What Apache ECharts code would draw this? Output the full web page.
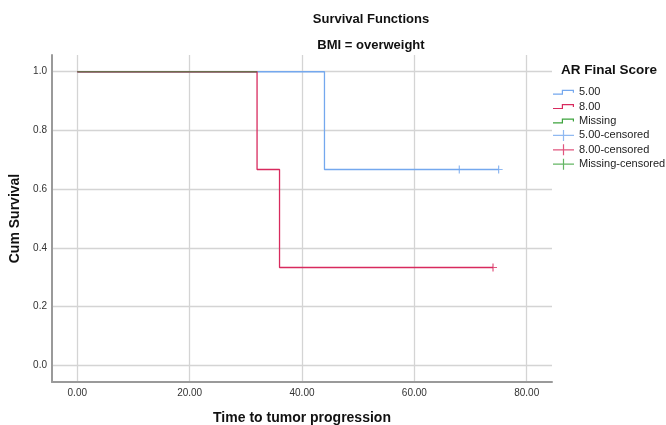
<!DOCTYPE html>
<html>
<head>
<meta charset="utf-8">
<script src="https://cdn.jsdelivr.net/npm/echarts@6/dist/echarts.min.js"></script>
<style>
  html, body { margin: 0; padding: 0; background: #fff; }
  #chart { width: 666px; height: 425px; }
</style>
</head>
<body>
<div id="chart"></div>
<script>
// 数据：生存曲线（Kaplan-Meier）
var groups = ['5.00', '8.00', 'Missing'];
var time5 = [0, 44, 68, 75];
var surv5 = [1, 0.667, 0.667, 0.667];
var censorTime5 = [68, 75];
var censorSurv5 = [0.667, 0.667];
var time8 = [0, 32, 36, 74];
var surv8 = [1, 0.667, 0.333, 0.333];
var censorTime8 = [74];
var censorSurv8 = [0.333];
var timeMissing = [0, 32];
var survMissing = [1, 1];
var xTicks = [0, 20, 40, 60, 80];
var yTicks = [0, 0.2, 0.4, 0.6, 0.8, 1.0];

function pairs(xs, ys) {
    return xs.map(function (x, i) { return [x, ys[i]]; });
}

// 图例图标
var stepIcon = 'path://M0,3.8 H8.8 V0 H21 V3 H19.8 V1.2 H10 V5 H0 Z';
var crossIcon = 'path://M0,4.9 H9.9 V0 H11.1 V4.9 H21 V6.1 H11.1 V11 H9.9 V6.1 H0 Z';
var censorMark = 'path://M0,3.4 H3.4 V0 H4.6 V3.4 H8 V4.6 H4.6 V8 H3.4 V4.6 H0 Z';

var colBlue = '#74a8ee';
var colRed = '#d82a5e';
var colGreen = '#3da33d';

var chart = echarts.init(document.getElementById('chart'));
var option = {
    backgroundColor: '#fff',
    animation: false,
    textStyle: { fontFamily: 'Liberation Sans, Arial, sans-serif' },
    title: [{
        text: 'Survival Functions',
        subtext: 'BMI = overweight',
        left: 366,
        textAlign: 'center',
        top: 8,
        itemGap: 13,
        textStyle: { fontSize: 13, fontWeight: 'bold', color: '#111' },
        subtextStyle: { fontSize: 13, fontWeight: 'bold', color: '#111' }
    }, {
        text: 'AR Final Score',
        left: 556,
        top: 58,
        textStyle: { fontSize: 13.5, fontWeight: 'bold', color: '#111' }
    }],
    legend: {
        orient: 'vertical',
        left: 548,
        top: 80,
        itemWidth: 21,
        itemHeight: 11,
        itemGap: 0,
        textStyle: { fontSize: 11, color: '#222', lineHeight: 14.4 },
        data: [
            { name: '5.00', icon: stepIcon },
            { name: '8.00', icon: stepIcon },
            { name: 'Missing', icon: stepIcon },
            { name: '5.00-censored', icon: crossIcon },
            { name: '8.00-censored', icon: crossIcon },
            { name: 'Missing-censored', icon: crossIcon }
        ]
    },
    grid: { left: 52, right: 114, top: 55, bottom: 43, outerBoundsMode: 'none' },
    xAxis: {
        type: 'value',
        min: -4.5,
        max: 84.5,
        name: 'Time to tumor progression',
        nameLocation: 'middle',
        nameGap: 29,
        nameTextStyle: { fontSize: 14, fontWeight: 'bold', color: '#111' },
        axisLine: { onZero: false, lineStyle: { color: '#9a9a9a', width: 2 } },
        axisTick: { show: false, customValues: xTicks },
        axisLabel: {
            customValues: xTicks,
            fontSize: 10,
            color: '#333',
            margin: 6,
            formatter: function (v) { return v.toFixed(2); }
        },
        splitLine: { show: true, lineStyle: { color: '#d4d4d4', width: 1.3 } }
    },
    yAxis: {
        type: 'value',
        min: -0.057,
        max: 1.057,
        name: 'Cum Survival',
        nameLocation: 'middle',
        nameGap: 28,
        nameTextStyle: { fontSize: 14, fontWeight: 'bold', color: '#111' },
        axisLine: { show: true, onZero: false, lineStyle: { color: '#9a9a9a', width: 2 } },
        axisTick: { show: false, customValues: yTicks },
        axisLabel: {
            customValues: yTicks,
            fontSize: 10,
            color: '#333',
            margin: 5,
            formatter: function (v) { return v.toFixed(1); }
        },
        splitLine: { show: true, lineStyle: { color: '#d4d4d4', width: 1.3 } }
    },
    series: [{
        name: '5.00',
        type: 'line',
        step: 'end',
        data: pairs(time5, surv5),
        showSymbol: false,
        color: colBlue,
        lineStyle: { width: 1.3 },
        z: 2
    }, {
        name: '8.00',
        type: 'line',
        step: 'end',
        data: pairs(time8, surv8),
        showSymbol: false,
        color: colRed,
        lineStyle: { width: 1.3 },
        z: 3
    }, {
        // 三条曲线重叠处显示为橄榄色
        name: 'Missing',
        type: 'line',
        step: 'end',
        data: pairs(timeMissing, survMissing),
        showSymbol: false,
        itemStyle: { color: colGreen },
        lineStyle: { width: 1.5, color: '#6c6e4e' },
        z: 4
    }, {
        name: '5.00-censored',
        type: 'scatter',
        data: pairs(censorTime5, censorSurv5),
        symbol: censorMark,
        symbolSize: 8,
        color: colBlue,
        z: 5
    }, {
        name: '8.00-censored',
        type: 'scatter',
        data: pairs(censorTime8, censorSurv8),
        symbol: censorMark,
        symbolSize: 8,
        color: colRed,
        z: 5
    }, {
        name: 'Missing-censored',
        type: 'scatter',
        data: [],
        symbol: censorMark,
        symbolSize: 8,
        color: colGreen,
        z: 5
    }]
};
chart.setOption(option);
</script>
</body>
</html>
